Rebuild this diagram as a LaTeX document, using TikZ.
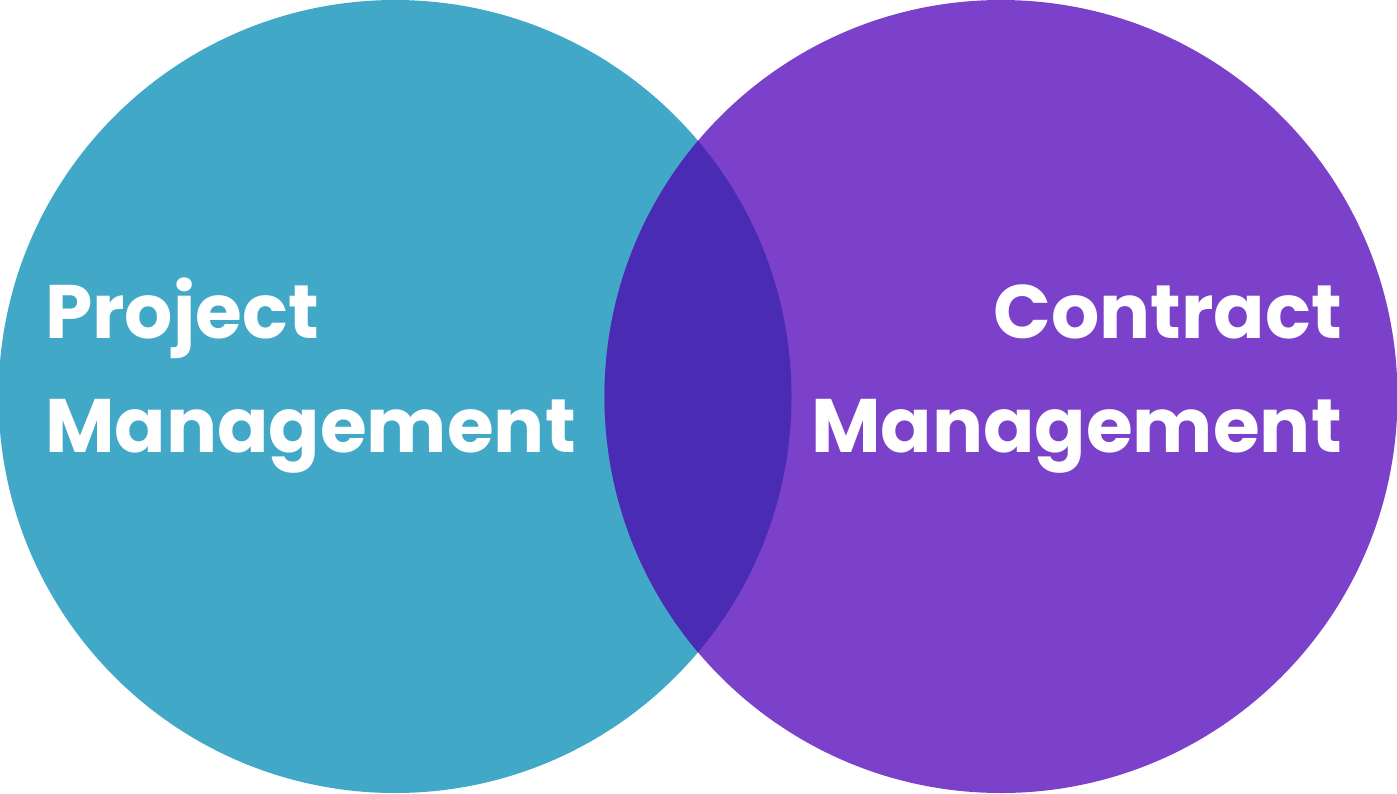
\documentclass[tikz,border=0pt]{standalone}
\usepackage{fontspec}
\setmainfont{Poppins}
\usepackage{tikz}
\definecolor{pmteal}{RGB}{66,168,199}
\definecolor{cmpurple}{RGB}{123,65,202}
\definecolor{overlapblue}{RGB}{74,43,180}
\tikzset{
  lbl/.style={text=white, inner sep=0pt, font=\fontsize{75.8}{114}\selectfont\bfseries}
}

\begin{document}
\begin{tikzpicture}[x=1pt,y=-1pt]
\useasboundingbox (0,0) rectangle (1397,793);

% circles
\fill[pmteal] (395,396.5) circle (396.5);
\fill[cmpurple] (1001,396.5) circle (396.5);
\begin{scope}
  \clip (395,396.5) circle (396.5);
  \fill[overlapblue] (1001,396.5) circle (396.5);
\end{scope}

% labels
\node[lbl, anchor=base west] (pm1) at (45,338) {Project};
\node[lbl, anchor=base west] (pm2) at (45,452) {Management};
\node[lbl, anchor=base east] (cm1) at (1342,338) {Contract};
\node[lbl, anchor=base east] (cm2) at (1342,452) {Management};

\end{tikzpicture}
\end{document}
